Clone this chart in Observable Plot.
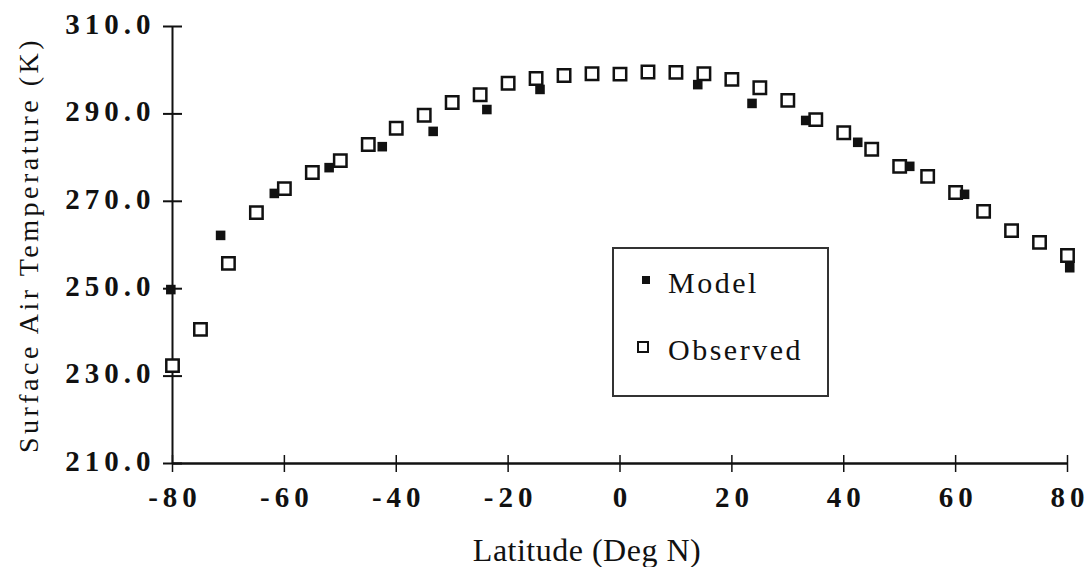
<!DOCTYPE html>
<html>
<head>
<meta charset="utf-8">
<script src="https://cdn.jsdelivr.net/npm/d3@7"></script>
<script src="https://cdn.jsdelivr.net/npm/@observablehq/plot@0.6"></script>
<style>
  html, body { margin: 0; padding: 0; background: white; }
  #wrap { position: relative; width: 1089px; height: 567px; }
  #legend { position: absolute; left: 0; top: 0; pointer-events: none; }
  g[aria-label="y-axis tick label"] text { letter-spacing: 5px; }
  g[aria-label="x-axis tick label"] text { letter-spacing: 5px; }
</style>
</head>
<body>
<div id="wrap"></div>
<script>
// Latitude (deg N) and surface air temperature (K)
const observedLat = [-80,-75,-70,-65,-60,-55,-50,-45,-40,-35,-30,-25,-20,-15,-10,-5,0,5,10,15,20,25,30,35,40,45,50,55,60,65,70,75,80];
const observedTemp = [232.4,240.7,255.8,267.4,272.9,276.6,279.3,283.0,286.7,289.7,292.6,294.4,297.0,298.1,298.8,299.2,299.1,299.6,299.5,299.2,297.9,296.0,293.1,288.7,285.7,281.9,278.0,275.7,272.0,267.7,263.3,260.6,257.6];
const modelLat = [-80.3,-71.4,-61.8,-52.0,-42.5,-33.4,-23.8,-14.3,13.9,23.6,33.2,42.5,51.8,61.6,80.4];
const modelTemp = [249.8,262.2,271.8,277.7,282.5,286.0,291.0,295.6,296.7,292.4,288.5,283.5,278.0,271.6,254.8];
const yTicks = [210,230,250,270,290,310];
const xTicks = [-80,-60,-40,-20,0,20,40,60,80];
const xLabel = "Latitude (Deg N)";
const yLabel = "Surface Air Temperature (K)";
const seriesNames = ["Model", "Observed"];

const observed = observedLat.map((lat, i) => ({lat, temp: observedTemp[i]}));
const model = modelLat.map((lat, i) => ({lat, temp: modelTemp[i]}));

const ink = "#111";
const chart = Plot.plot({
  width: 1089,
  height: 567,
  marginLeft: 172,
  marginRight: 22,
  marginTop: 26,
  marginBottom: 104,
  x: {domain: [-80, 80]},
  y: {domain: [210, 310]},
  style: {fontFamily: "'Liberation Serif', 'Times New Roman', serif", color: ink, background: "white"},
  marks: [
    Plot.ruleX([-80], {stroke: ink, strokeWidth: 2}),
    Plot.ruleY([210], {stroke: ink, strokeWidth: 2.5}),
    Plot.axisY(yTicks, {tickSize: 19, dx: 10, fill: "none", stroke: ink, strokeWidth: 2, label: null}),
    Plot.axisY(yTicks, {tickSize: 0, tickPadding: 17, dy: -2, tickFormat: d => d.toFixed(1), fontSize: 29, fontWeight: "bold", fill: ink, label: null}),
    Plot.axisX(xTicks, {tickSize: 17, dy: -8, fill: "none", stroke: ink, strokeWidth: 1.5, label: null}),
    Plot.axisX(xTicks, {tickSize: 0, tickPadding: 23, dx: 2.5, tickFormat: d => String(d), fontSize: 29, fontWeight: "bold", fill: ink, label: null}),
    Plot.text([yLabel], {frameAnchor: "left", textAnchor: "middle", rotate: -90, dx: -143, text: d => d, fontSize: 28, fill: ink}),
    Plot.text([xLabel], {frameAnchor: "bottom", textAnchor: "middle", lineAnchor: "bottom", dy: 97, dx: -33, text: d => d, fontSize: 32, fill: ink}),
    Plot.dot(observed, {x: "lat", y: "temp", symbol: "square", r: 7, fill: "white", stroke: ink, strokeWidth: 2.5}),
    Plot.dot(model, {x: "lat", y: "temp", symbol: "square", r: 5.4, fill: ink, stroke: "none"})
  ]
});
document.getElementById("wrap").appendChild(chart);

// letter spacing for the axis titles
d3.select(chart).selectAll('g[aria-label="text"] text').each(function () {
  const t = d3.select(this);
  t.style("letter-spacing", t.text() === yLabel ? "3.5px" : "0.5px");
});

// Legend (inside plot area, boxed)
const leg = d3.select("#wrap").append("svg")
  .attr("id", "legend").attr("width", 1089).attr("height", 567)
  .style("font-family", "'Liberation Serif', 'Times New Roman', serif");
leg.append("rect").attr("x", 613).attr("y", 248).attr("width", 215).attr("height", 148)
  .attr("fill", "white").attr("stroke", "#333").attr("stroke-width", 2);
leg.append("rect").attr("x", 642).attr("y", 276).attr("width", 8).attr("height", 8).attr("fill", ink);
leg.append("rect").attr("x", 638).attr("y", 342).attr("width", 10).attr("height", 10)
  .attr("fill", "white").attr("stroke", ink).attr("stroke-width", 2);
leg.selectAll("text.lg").data(seriesNames).join("text").attr("class", "lg")
  .attr("x", 668).attr("y", (d, i) => i === 0 ? 293 : 360)
  .attr("font-size", 30).attr("letter-spacing", "2.5px").attr("fill", ink)
  .text(d => d);
</script>
</body>
</html>
